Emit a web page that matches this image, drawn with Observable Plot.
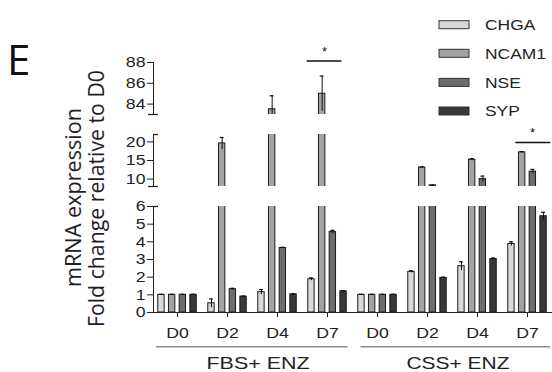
<!DOCTYPE html>
<html><head><meta charset="utf-8">
<script src="https://cdn.jsdelivr.net/npm/d3@7"></script>
<script src="https://cdn.jsdelivr.net/npm/@observablehq/plot@0.6"></script>
<style>
html,body{margin:0;padding:0;background:#fff;}
#chart{position:relative;width:552px;height:372px;overflow:hidden;background:#fff;font-family:"Liberation Sans",Arial,sans-serif;}
#chart > svg{position:absolute;left:0;}
</style></head><body><div id="chart"></div>
<script>
// ---------- data ----------
const conditions = ["FBS+ ENZ", "CSS+ ENZ"];
const days = ["D0", "D2", "D4", "D7"];
const genes = ["CHGA", "NCAM1", "NSE", "SYP"];
// order: FBS D0, D2, D4, D7, CSS D0, D2, D4, D7
const CHGA  = [1.0, 0.52, 1.15, 1.88, 1.0, 2.30, 2.62, 3.88];
const NCAM1 = [1.0, 19.6, 83.5, 85.0, 1.0, 13.1, 15.2, 17.2];
const NSE   = [1.0, 1.32, 3.65, 4.55, 1.0, 8.3, 10.0, 12.0];
const SYP   = [1.0, 0.90, 1.03, 1.20, 1.0, 1.96, 3.03, 5.45];
const CHGA_err  = [0.03, 0.25, 0.15, 0.08, 0.03, 0.06, 0.25, 0.12];
const NCAM1_err = [0.03, 1.6, 1.3, 1.7, 0.03, 0.2, 0.3, 0.2];
const NSE_err   = [0.03, 0.05, 0.04, 0.10, 0.03, 0.1, 0.8, 0.6];
const SYP_err   = [0.03, 0.03, 0.03, 0.03, 0.03, 0.04, 0.05, 0.22];
const segmentDomains = [[83, 88], [8, 22], [0, 6]];
const segmentTicks = [[84, 86, 88], [10, 15, 20], [0, 1, 2, 3, 4, 5, 6]];
const yTitle = ["mRNA expression", "Fold change relative to D0"];
const panelLabel = "E";
const significance = [
  {condition: "FBS+ ENZ", day: "D7", label: "*"},
  {condition: "CSS+ ENZ", day: "D7", label: "*"}
];

// ---------- derived table ----------
const colors = ["#d9d9d9", "#a3a3a3", "#6d6d6d", "#383838"];
const groups = conditions.flatMap(c => days.map(d => c + "|" + d));
const valueSeries = [CHGA, NCAM1, NSE, SYP];
const errSeries = [CHGA_err, NCAM1_err, NSE_err, SYP_err];
const rows = genes.flatMap((g, k) => groups.map((grp, i) => ({
  group: grp, gene: g, value: valueSeries[k][i], err: errSeries[k][i]
})));

// ---------- layout ----------
const W = 552, ML = 153, MR = 0, FW = W - ML - MR;
const BAND = [151, 552];
const bw = (BAND[1] - BAND[0]) / groups.length;
const barStep = 10.7, barW = 6.5, capW = 4;
const layout = [
  {top: 0, mt: 62, h: 114, mb: 0},
  {top: 114, mt: 20, h: 72, mb: 0},
  {top: 186, mt: 20, h: 156, mb: 30}
];
const ink = "#222";
const root = document.getElementById("chart");
let xScale = null;
const plots = [];

layout.forEach((L, p) => {
  const marks = [];
  genes.forEach((g, k) => {
    const off = (k - 1.5) * barStep;
    const data = rows.filter(r => r.gene === g);
    marks.push(Plot.barY(data, {
      x: "group", y1: 0, y2: "value", fill: colors[k], stroke: "#1a1a1a", strokeWidth: 1,
      insetLeft: (bw - barW) / 2 + off, insetRight: (bw - barW) / 2 - off, clip: true
    }));
    marks.push(Plot.ruleX(data, {
      x: "group", y1: d => d.value - d.err, y2: d => d.value + d.err, dx: off,
      stroke: "#111", strokeWidth: 1, clip: true
    }));
    marks.push(Plot.tickY(data, {
      x: "group", y: d => d.value + d.err,
      insetLeft: (bw - capW) / 2 + off, insetRight: (bw - capW) / 2 - off,
      stroke: "#111", strokeWidth: 1.2, clip: true
    }));
  });
  const [d0, d1] = segmentDomains[p];
  // axis break caps
  if (p === 0) {
    marks.push(Plot.tickY([d0], {y: d => d, insetRight: FW - 10, dx: -5, stroke: ink, strokeWidth: 1.3}));
  } else if (p === 1) {
    marks.push(Plot.tickY([d1], {y: d => d, insetRight: FW - 5, stroke: ink, strokeWidth: 1.3}));
    marks.push(Plot.tickY([d0], {y: d => d, insetRight: FW - 10, dx: -5, stroke: ink, strokeWidth: 1.3}));
  } else {
    marks.push(Plot.tickY([d1], {y: d => d, insetRight: FW - 5, stroke: ink, strokeWidth: 1.3}));
  }
  // significance
  if (p === 0) {
    const s = significance.filter(s => s.condition === "FBS+ ENZ");
    marks.push(Plot.tickY(s, {x: d => d.condition + "|" + d.day, y: () => 88.15, insetLeft: 4.6, insetRight: 10.5, stroke: "#111", strokeWidth: 1.5}));
    marks.push(Plot.text(s, {x: d => d.condition + "|" + d.day, y: () => 88.15, text: "label", dx: -3, dy: -9, fontSize: 13, fill: "#111"}));
  }
  if (p === 1) {
    const s = significance.filter(s => s.condition === "CSS+ ENZ");
    marks.push(Plot.tickY(s, {x: d => d.condition + "|" + d.day, y: () => 19.85, insetLeft: 13.3, insetRight: 1.8, stroke: "#111", strokeWidth: 1.5}));
    marks.push(Plot.text(s, {x: d => d.condition + "|" + d.day, y: () => 19.85, text: "label", dx: 5, dy: -10, fontSize: 13, fill: "#111"}));
  }
  const svg = Plot.plot({
    width: W, height: L.h,
    marginLeft: ML, marginRight: MR, marginTop: L.mt, marginBottom: L.mb,
    x: {domain: groups, range: BAND, padding: 0, axis: p === 2 ? "bottom" : null,
        tickSize: 5, tickPadding: 10, tickFormat: d => d.split("|")[1], label: null, line: true},
    y: {domain: segmentDomains[p], ticks: segmentTicks[p], tickFormat: d => String(d),
        tickSize: 6, tickPadding: 2, label: null, line: true},
    style: {background: "transparent", fontSize: "15px", fontFamily: "Liberation Sans, Arial, sans-serif", color: ink, overflow: "visible"},
    marks
  });
  if (p === 2) xScale = svg.scale("x");
  svg.style.position = "absolute";
  svg.style.top = L.top + "px";
  svg.style.left = "0px";
  root.appendChild(svg);
  plots.push(svg);
});

function stretch(el, f) {
  el.querySelectorAll("text").forEach(t => {
    if (t.textContent === "*") return;
    const len = t.getComputedTextLength();
    if (len > 0) {
      t.setAttribute("textLength", len * f);
      t.setAttribute("lengthAdjust", "spacingAndGlyphs");
    }
  });
}
plots.forEach(s => stretch(s, 1.18));

// ---------- overlay: panel letter, y title, legend, group labels ----------
const ov = d3.select(root).append("svg")
  .attr("width", W).attr("height", 372)
  .style("position", "absolute").style("top", "0px").style("left", "0px")
  .style("overflow", "visible");

ov.append("text").attr("x", 7).attr("y", 75)
  .attr("font-family", "Open Sans, sans-serif").attr("font-size", 42)
  .attr("fill", "#111").text(panelLabel);

const titleSpecs = [{x: 81, y: 287, len: 179}, {x: 104, y: 327, len: 257}];
yTitle.forEach((t, i) => {
  const s = titleSpecs[i];
  ov.append("text").attr("transform", `translate(${s.x},${s.y}) rotate(-90)`)
    .attr("font-family", "Open Sans, sans-serif").attr("font-size", 21)
    .attr("fill", "#1e1e2a").attr("textLength", s.len).attr("lengthAdjust", "spacingAndGlyphs")
    .text(t);
});

// legend
const legY = [24.7, 53.3, 82.4, 111];
genes.forEach((g, k) => {
  ov.append("rect").attr("x", 439).attr("y", legY[k] - 4).attr("width", 30).attr("height", 8)
    .attr("fill", colors[k]).attr("stroke", "#333").attr("stroke-width", 1);
  ov.append("text").attr("x", 485).attr("y", legY[k] + 5.3)
    .attr("font-family", "Liberation Sans, Arial, sans-serif").attr("font-size", 15)
    .attr("fill", ink).attr("class", "leg").text(g);
});
ov.selectAll("text.leg").each(function() {
  const len = this.getComputedTextLength();
  this.setAttribute("textLength", len * 1.16);
  this.setAttribute("lengthAdjust", "spacingAndGlyphs");
});

// condition labels under the axis
const bandW = xScale.bandwidth;
const gInsets = [[4, 4.5], [8.5, 2]];
conditions.forEach((c, ci) => {
  const first = c + "|" + days[0], last = c + "|" + days[days.length - 1];
  const x1 = xScale.apply(first) + gInsets[ci][0];
  const x2 = xScale.apply(last) + bandW - gInsets[ci][1];
  ov.append("line").attr("x1", x1).attr("x2", x2).attr("y1", 346.7).attr("y2", 346.7)
    .attr("stroke", "#8a8a8a").attr("stroke-width", 1.6);
  ov.append("text").attr("x", (xScale.apply(first) + xScale.apply(last) + bandW) / 2 + 6).attr("y", 369)
    .attr("text-anchor", "middle").attr("font-family", "Liberation Sans, Arial, sans-serif")
    .attr("font-size", 17).attr("fill", ink)
    .attr("textLength", 103).attr("lengthAdjust", "spacingAndGlyphs").text(c);
});
</script></body></html>
